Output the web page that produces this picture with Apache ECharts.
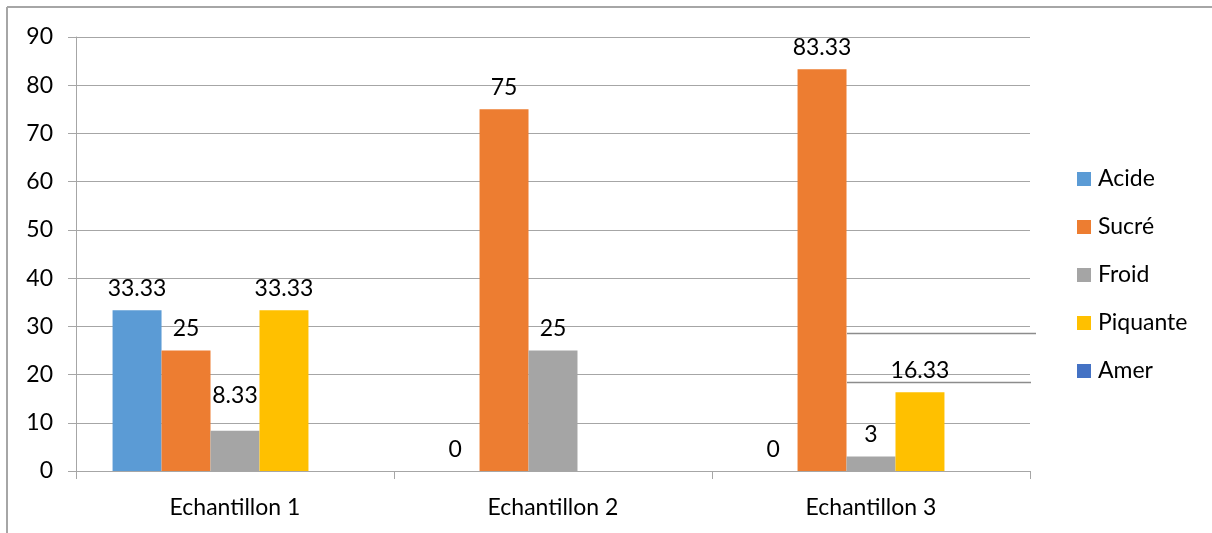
<!DOCTYPE html>
<html>
<head>
<meta charset="utf-8">
<script src="https://cdn.jsdelivr.net/npm/echarts@6/dist/echarts.min.js"></script>
<style>html,body{margin:0;padding:0;background:#fff}#c{width:1212px;height:533px}</style>
</head>
<body>
<div id="c"></div>
<script>
const categories = ['Echantillon 1', 'Echantillon 2', 'Echantillon 3'];
const seriesNames = ['Acide', 'Sucré', 'Froid', 'Piquante', 'Amer'];
const acide = [33.33, 0, 0];
const sucre = [25, 75, 83.33];
const froid = [8.33, 25, 3];
const piquante = [33.33, null, 16.33];
const amer = [null, null, null];
const yTicks = { min: 0, max: 90, interval: 10 };

const colors = ['#5B9BD5', '#ED7D31', '#A5A5A5', '#FFC000', '#4472C4'];
const values = [acide, sucre, froid, piquante, amer];
const FONT = 'Lato';
const FS = 23;

const chart = echarts.init(document.getElementById('c'));
const series = seriesNames.map((name, si) => ({
  name,
  type: 'bar',
  barGap: '0%',
  barCategoryGap: '23%',
  itemStyle: { color: colors[si] },
  label: {
    show: true, position: 'top', distance: 10,
    color: '#000', fontSize: FS, fontFamily: FONT,
    formatter: p => (p.value === null || p.value === undefined) ? '' : String(p.value)
  },
  labelLayout: (si === 2) ? (p => p.dataIndex === 0 ? { dy: -14 } : {}) : undefined,
  data: values[si]
}));

chart.setOption({
  animation: false,
  textStyle: { fontFamily: FONT },
  grid: { left: 76, right: 182, top: 37, bottom: 62 },
  legend: {
    orient: 'vertical', left: 1072, top: 162,
    itemWidth: 14, itemHeight: 14, itemGap: 24,
    icon: 'rect',
    textStyle: { fontSize: FS, color: '#000', fontFamily: FONT, lineHeight: 24, padding: [0, 0, 0, 2] },
    data: seriesNames
  },
  xAxis: {
    type: 'category', data: categories,
    axisLine: { lineStyle: { color: '#a6a6a6', width: 1 } },
    axisTick: { show: true, length: 8, lineStyle: { color: '#a6a6a6' } },
    axisLabel: { fontSize: FS, color: '#000', margin: 25, fontFamily: FONT }
  },
  yAxis: {
    type: 'value', min: yTicks.min, max: yTicks.max, interval: yTicks.interval,
    axisLine: { show: true, lineStyle: { color: '#a6a6a6', width: 1 } },
    axisTick: { show: true, length: 8, lineStyle: { color: '#a6a6a6' } },
    axisLabel: { fontSize: FS, color: '#000', margin: 23, fontFamily: FONT },
    splitLine: { show: true, lineStyle: { color: '#a6a6a6', width: 1 } }
  },
  graphic: [
    { type: 'line', shape: { x1: 7, y1: 7, x2: 1212, y2: 7 }, style: { stroke: '#a6a6a6', lineWidth: 2 }, silent: true },
    { type: 'line', shape: { x1: 7, y1: 7, x2: 7, y2: 533 }, style: { stroke: '#a6a6a6', lineWidth: 2 }, silent: true },
    { type: 'line', shape: { x1: 847, y1: 333.5, x2: 1036, y2: 333.5 }, style: { stroke: '#8c8c8c', lineWidth: 1.5 }, silent: true },
    { type: 'line', shape: { x1: 847, y1: 382.5, x2: 1031, y2: 382.5 }, style: { stroke: '#8c8c8c', lineWidth: 1.5 }, silent: true }
  ],
  series
});
</script>
</body>
</html>
